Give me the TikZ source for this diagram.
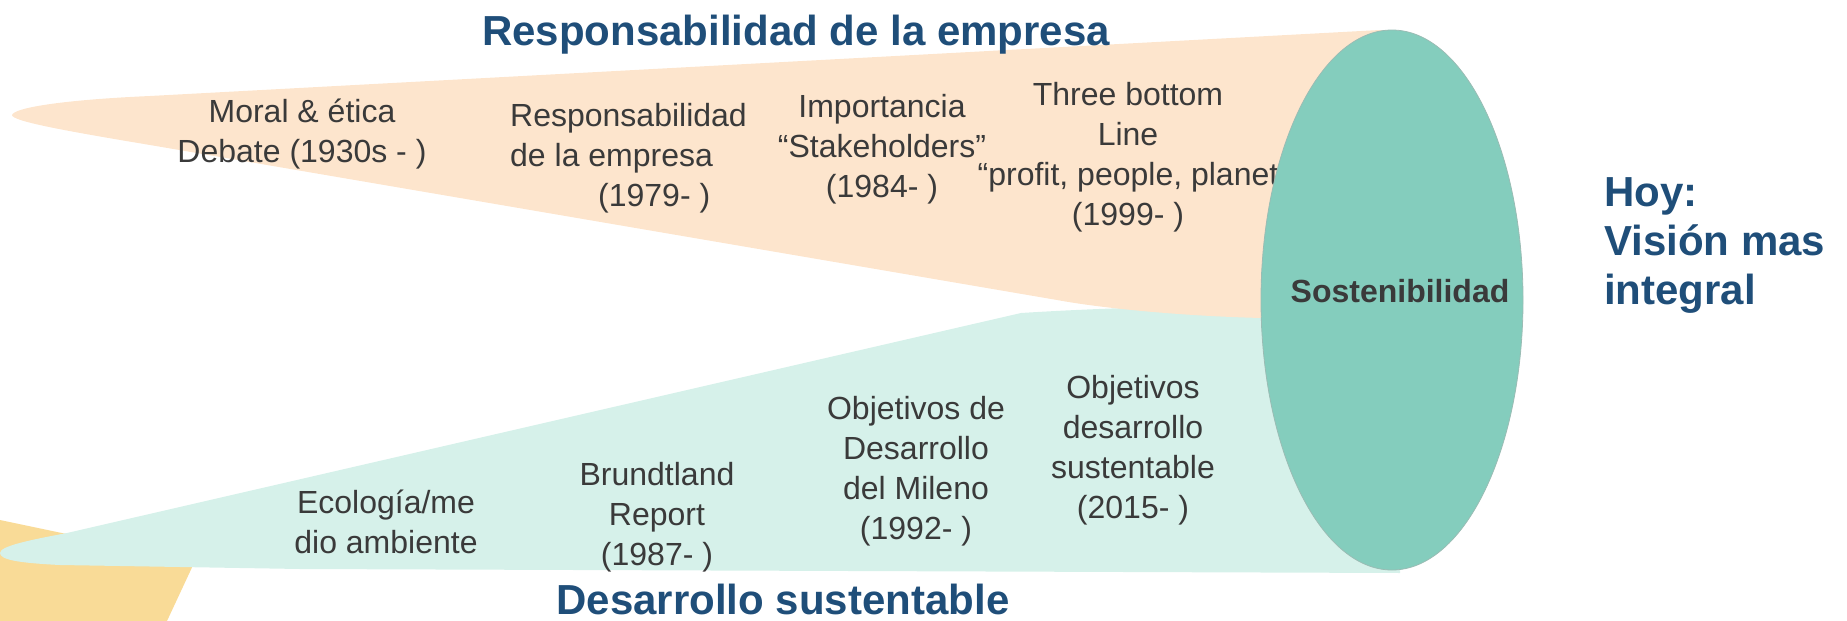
\documentclass[tikz,border=0pt]{standalone}
\usepackage{fontspec}
\setmainfont{Liberation Sans}
\definecolor{peach}{HTML}{FDE5CD}
\definecolor{mint}{HTML}{D6F1EA}
\definecolor{sand}{HTML}{F9DB97}
\definecolor{tealC}{HTML}{84CDBD}
\definecolor{tealL}{HTML}{ADF2E3}
\definecolor{tealD}{HTML}{6E9F94}
\definecolor{navy}{HTML}{1F4E79}
\definecolor{ink}{HTML}{3A3A3A}
\pgfdeclareradialshading{rim}{\pgfpoint{-6bp}{-6bp}}{color(0bp)=(tealC); color(44bp)=(tealC); color(57bp)=(tealL)}
\tikzset{
  item/.style={text=ink, font=\fontsize{32}{40}\selectfont, align=center, inner sep=0pt},
  head/.style={text=navy, font=\bfseries\fontsize{42}{49}\selectfont, inner sep=0pt},
}
\begin{document}
\begin{tikzpicture}[x=1pt,y=-1pt]
\useasboundingbox (0,0) rectangle (1847,621);
% yellow wedge
\fill[sand] (0,520) -- (195,561) -- (167,621) -- (0,621) -- cycle;
% green cone
\fill[mint] (0,553) .. controls (0,546) and (30,540) .. (67,533) -- (1021,313)
  .. controls (1100,308) and (1200,305) .. (1300,305) -- (1400,305) -- (1400,573)
  -- (300,569) -- (60,565) .. controls (20,563) and (0,560) .. (0,553) -- cycle;
% orange cone
\fill[peach] (12,115) .. controls (14,108) and (60,100) .. (150,96) -- (1380,30)
  -- (1392,30) -- (1392,318) -- (1262,318) .. controls (1180,316) and (1100,308) .. (1057,300)
  -- (150,145) .. controls (60,130) and (12,121) .. (12,115) -- cycle;
% texts in orange cone
\node[item] (moral) at (302,134) {Moral \& ética\\Debate (1930s - )};
\node[item, align=left, anchor=west] (resp) at (510,158) {Responsabilidad\\de la empresa\\\makebox[88pt]{}(1979- )};
\node[item] (stake) at (882,149) {Importancia\\“Stakeholders”\\(1984- )};
\node[item] (tbl) at (1128,157) {Three bottom\\Line\\“profit, people, planet\\(1999- )};
% texts in green cone
\node[item] (eco) at (386,522) {Ecología/me\\dio ambiente};
\node[item] (brund) at (657,517) {Brundtland\\Report\\(1987- )};
\node[item] (odm) at (916,471) {Objetivos de\\Desarrollo\\del Mileno\\(1992- )};
\node[item] (ods) at (1133,450) {Objetivos\\desarrollo\\sustentable\\(2015- )};
% central ellipse
\shade[shading=rim] (1392,300) ellipse [x radius=131, y radius=270];
\draw[tealD!70, line width=0.8pt] (1392,300) ellipse [x radius=131, y radius=270];
\node[text=ink, font=\bfseries\fontsize{32}{38}\selectfont, inner sep=0pt, anchor=base] (sost) at (1400,302) {Sostenibilidad};
% headings
\node[head, anchor=base] (ttop) at (796,45) {Responsabilidad de la empresa};
\node[head, anchor=base] (tbot) at (783,614) {Desarrollo sustentable};
\node[head, align=left, anchor=west] (hoy) at (1604,245) {Hoy:\\Visión mas\\integral};
\end{tikzpicture}
\end{document}
